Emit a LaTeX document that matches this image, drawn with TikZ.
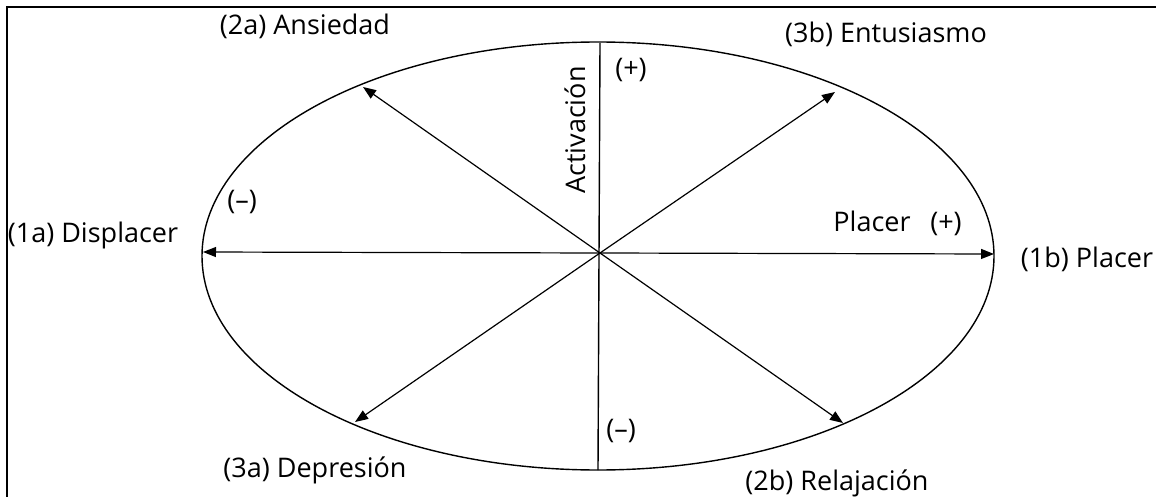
\documentclass[tikz,border=0pt]{standalone}
\usepackage{fontspec}
\setmainfont{Open Sans}
\usetikzlibrary{arrows.meta}
\begin{document}
\begin{tikzpicture}[x=1pt,y=-1pt,
  lbl/.style={font=\fontsize{27}{31}\selectfont, inner sep=0pt, anchor=base},
  sgn/.style={font=\fontsize{27}{31}\selectfont, inner sep=0pt, anchor=base},
  axis/.style={line width=1.4pt},
  arr/.style={line width=1.2pt, -{Triangle[length=13pt,width=10pt]}}]
\useasboundingbox (0,0) rectangle (1156,497);
\draw[line width=2pt] (7,497) -- (7,7) -- (1156,7);
\draw[line width=1.4pt] (598,256) ellipse [x radius=396, y radius=214];
\coordinate (C) at (600,253);
\coordinate (top) at (600,43);
\coordinate (bot) at (598,470);
\coordinate (t1a) at (203,252);
\coordinate (t1b) at (994,254);
\coordinate (t2a) at (363,87);
\coordinate (t3b) at (835,92);
\coordinate (t3a) at (355,422);
\coordinate (t2b) at (843,423);
\draw[axis] (top) -- (bot);
\draw[arr] (C) -- (t1a);
\draw[arr] (C) -- (t1b);
\draw[arr] (C) -- (t2a);
\draw[arr] (C) -- (t3b);
\draw[arr] (C) -- (t3a);
\draw[arr] (C) -- (t2b);
\node[lbl] (n2a) at (305,35) {(2a) Ansiedad};
\node[lbl] (n3b) at (886,43) {(3b) Entusiasmo};
\node[lbl] (n1a) at (93,242) {(1a) Displacer};
\node[lbl] (n1b) at (1087,267) {(1b) Placer};
\node[lbl] (n3a) at (315,477) {(3a) Depresión};
\node[lbl] (n2b) at (837,490) {(2b) Relajación};
\node[lbl] (pl) at (872,232) {Placer};
\node[sgn] (plp) at (946,232) {(+)};
\node[sgn] (mleft) at (242,210) {(--)};
\node[sgn] (ptop) at (631,78) {(+)};
\node[sgn] (mbot) at (621,438) {(--)};
\node[lbl, rotate=90] (act) at (585,130) {Activación};
\end{tikzpicture}
\end{document}
